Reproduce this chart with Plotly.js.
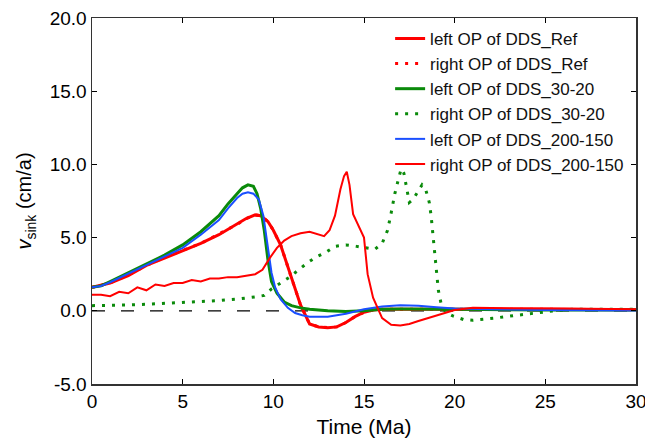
<!DOCTYPE html>
<html>
<head>
<meta charset="utf-8">
<script src="https://cdn.plot.ly/plotly-3.0.1.min.js"></script>
<style>html,body{margin:0;padding:0;background:#fff;}#chart{width:645px;height:442px;}</style>
</head>
<body>
<div id="chart"></div>
<script>
// Time (Ma) and sinking velocity (cm/a) for each series
const tRefLeft = [0,1,2,3,4,5,6,7,8,8.5,9,9.3,9.7,10,10.4,10.8,11.1,11.5,12,12.5,13,13.5,14,14.5,15,15.5,16,17,18,20,22,25,30];
const vRefLeft = [1.6,1.9,2.4,3.1,3.6,4.1,4.6,5.2,5.9,6.3,6.55,6.5,6.1,5.5,4.5,3.0,1.9,0.4,-0.9,-1.1,-1.15,-1.1,-0.8,-0.4,-0.1,0.05,0.1,0.1,0.12,0.15,0.15,0.1,0.08];

const tRefRight = [0,1,2,3,4,5,6,7,8,8.5,9,9.3,9.7,10,10.4,10.8,11.1,11.5,12,12.5,13,13.5,14,14.5,15,15.5,16,17,18,20,22,25,30];
const vRefRight = [1.6,1.9,2.45,3.1,3.65,4.1,4.6,5.25,5.9,6.3,6.55,6.5,6.1,5.5,4.5,3.0,1.9,0.4,-0.9,-1.1,-1.15,-1.1,-0.8,-0.4,-0.1,0.05,0.1,0.1,0.12,0.15,0.15,0.1,0.08];

const t3020Left = [0,0.5,1,1.5,2,2.5,3,3.5,4,5,6,7,7.5,8,8.3,8.6,8.9,9.1,9.3,9.5,9.7,9.9,10.2,10.6,11,11.5,12,13,14,15,16,17,18,20,25,30];
const v3020Left = [1.6,1.7,2.0,2.3,2.6,2.9,3.2,3.5,3.8,4.5,5.4,6.5,7.3,8.0,8.4,8.6,8.5,8.0,7.0,5.5,3.5,2.0,1.2,0.6,0.35,0.2,0.1,0.0,-0.05,0.0,0.1,0.12,0.12,0.1,0.05,0.05];

const t3020Right = [0,1,2,3,4,5,6,7,8,8.5,9,9.5,9.9,10.4,10.9,11.4,11.9,12.4,12.9,13.4,14,14.6,15.1,15.6,16.0,16.3,16.5,16.7,16.9,17.05,17.2,17.35,17.5,17.7,17.9,18.2,18.4,18.6,18.7,18.8,18.9,19.0,19.1,19.25,19.5,19.9,20.5,21,21.6,22.2,22.8,23.4,24,24.6,25.5,26.5,28,30];
const v3020Right = [0.35,0.35,0.4,0.45,0.5,0.55,0.6,0.7,0.8,0.85,0.95,1.05,1.5,1.9,2.3,2.8,3.3,3.7,4.0,4.4,4.5,4.4,4.3,4.2,4.6,5.5,6.7,8.0,9.0,9.7,9.4,8.3,7.4,7.6,8.0,8.6,8.3,7.4,6.5,5.3,4.0,2.5,1.4,0.5,-0.1,-0.35,-0.6,-0.65,-0.6,-0.5,-0.4,-0.3,-0.2,-0.1,0.0,0.1,0.1,0.1];

const t200Left = [0,0.5,1,1.5,2,2.5,3,3.5,4,5,6,7,7.5,8,8.3,8.6,8.9,9.2,9.45,9.7,9.9,10.1,10.4,10.8,11.2,11.6,12,13,14,15,16,17,18,19,20,22,25,30];
const v200Left = [1.6,1.7,1.95,2.25,2.5,2.8,3.1,3.4,3.7,4.3,5.2,6.2,7.0,7.7,8.0,8.1,8.0,7.6,6.5,4.3,2.6,1.6,0.8,0.2,-0.15,-0.3,-0.4,-0.4,-0.2,0.1,0.3,0.38,0.35,0.25,0.15,0.1,0.05,0.02];

const t200Right = [0,0.5,1,1.5,2,2.5,3,3.5,4,4.5,5,5.5,6,6.5,7,7.5,8,8.5,9,9.4,9.8,10.2,10.6,11,11.5,12,12.5,12.8,13.1,13.4,13.7,13.9,14.05,14.2,14.4,14.7,15.0,15.2,15.5,16,16.5,17,17.5,18,18.5,19,19.5,20,21,23,26,30];
const v200Right = [1.1,1.1,1.0,1.3,1.2,1.6,1.4,1.8,1.7,1.9,1.9,2.1,2.0,2.2,2.2,2.3,2.3,2.4,2.5,2.8,3.6,4.3,4.8,5.1,5.3,5.4,5.2,5.1,5.5,6.5,8.3,9.2,9.5,8.6,6.6,5.8,5.0,2.5,0.9,-0.5,-0.95,-1.0,-0.9,-0.7,-0.5,-0.3,-0.1,0.05,0.2,0.2,0.15,0.1];

const seriesNames = ["left OP of DDS_Ref","right OP of DDS_Ref","left OP of DDS_30-20","right OP of DDS_30-20","left OP of DDS_200-150","right OP of DDS_200-150"];
const xTicks = [0,5,10,15,20,25,30];
const yTicks = [-5,0,5,10,15,20];

const RED = "#ff0000", GREEN = "#0a8a0a", BLUE = "#1a4fff";
const DOT = "3px,7px";

const traces = [
  {x:tRefLeft, y:vRefLeft, name:seriesNames[0], mode:"lines", line:{color:RED, width:3}},
  {x:tRefRight, y:vRefRight, name:seriesNames[1], mode:"lines", line:{color:RED, width:3, dash:DOT}},
  {x:t3020Left, y:v3020Left, name:seriesNames[2], mode:"lines", line:{color:GREEN, width:3}},
  {x:t3020Right, y:v3020Right, name:seriesNames[3], mode:"lines", line:{color:GREEN, width:3, dash:DOT}},
  {x:t200Left, y:v200Left, name:seriesNames[4], mode:"lines", line:{color:BLUE, width:2}},
  {x:t200Right, y:v200Right, name:seriesNames[5], mode:"lines", line:{color:RED, width:2}}
];

const FONT = "Arial, 'Liberation Sans', sans-serif";
const layout = {
  width:645, height:442,
  margin:{l:92, r:9, t:18, b:58},
  paper_bgcolor:"#fff", plot_bgcolor:"#fff",
  font:{family:FONT, size:19, color:"#000"},
  showlegend:true,
  legend:{x:0.548, y:0.992, xanchor:"left", yanchor:"top", bgcolor:"rgba(0,0,0,0)", borderwidth:0, font:{family:FONT, size:17, color:"#111"}},
  xaxis:{range:[0,30], tickvals:xTicks, ticktext:xTicks.map(String), ticks:"inside", ticklen:5, tickcolor:"#000",
         ticklabeloverflow:"allow",
         showline:true, linecolor:"#333", linewidth:1.5, mirror:"ticks", showgrid:false, zeroline:false,
         title:{text:"Time (Ma)", font:{family:FONT, size:21}, standoff:8}, automargin:false},
  yaxis:{range:[-5,20], tickvals:yTicks, ticktext:yTicks.map(v=>v.toFixed(1)), ticks:"inside", ticklen:5, tickcolor:"#000",
         ticklabeloverflow:"allow",
         showline:true, linecolor:"#333", linewidth:1.5, mirror:"ticks", showgrid:false, zeroline:false,
         title:{text:"<i>v</i><sub>sink</sub> (cm/a)", font:{family:FONT, size:20}, standoff:12}, automargin:false},
  shapes:[{type:"line", xref:"x", yref:"y", x0:0, x1:30, y0:0, y1:0, layer:"below", line:{color:"#000", width:1.2, dash:"13px,16px"}}]
};

Plotly.newPlot("chart", traces, layout, {displayModeBar:false, staticPlot:true});
</script>
</body>
</html>
